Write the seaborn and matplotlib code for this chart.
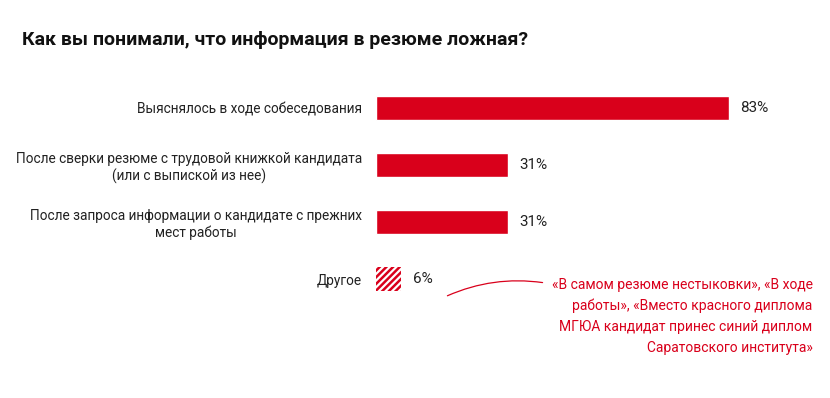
import matplotlib
matplotlib.use("Agg")
import matplotlib.pyplot as plt
import seaborn as sns
import pandas as pd

# data
categories = [
    "Выяснялось в ходе собеседования",
    "После сверки резюме с трудовой книжкой кандидата\n(или с выпиской из нее)",
    "После запроса информации о кандидате с прежних\nмест работы",
    "Другое",
]
values = [83, 31, 31, 6]
title = "Как вы понимали, что информация в резюме ложная?"
note = ("«В самом резюме нестыковки», «В ходе\n"
        "работы», «Вместо красного диплома\n"
        "МГЮА кандидат принес синий диплом\n"
        "Саратовского института»")

RED = "#d9001b"

sns.set_theme(style="white")
plt.rcParams['font.family'] = ['Roboto', 'DejaVu Sans']
plt.rcParams['hatch.linewidth'] = 1.8

df = pd.DataFrame({"cat": categories, "val": values})

fig = plt.figure(figsize=(8.3, 3.98), dpi=100)
ax = fig.add_axes([0.453, 0.227, 0.512, 0.573])

sns.barplot(data=df, x="val", y="cat", color=RED, saturation=1,
            width=0.42, ax=ax)

# last bar ("Другое") is hatched
last = ax.patches[-1]
last.set_facecolor("white")
last.set_edgecolor(RED)
last.set_hatch("/////")
last.set_linewidth(0)

ax.set_xlim(0, 100)
ax.set_ylim(3.5, -0.5)
ax.set_xlabel("")
ax.set_ylabel("")
ax.set_xticks([])
sns.despine(ax=ax, left=True, bottom=True)
ax.tick_params(axis="y", length=0, pad=10)
for lab in ax.get_yticklabels():
    lab.set_multialignment("center")
    lab.set_fontsize(9.8)
    lab.set_color("#222222")

# value labels
for i, v in enumerate(values):
    ax.annotate(f"{v}%", xy=(v, i), xytext=(8, 0), textcoords="offset points",
                va="center", ha="left", fontsize=11, color="#222222")

fig.text(0.027, 0.9, title, fontsize=14, fontweight="bold",
         color="#111111", va="center", ha="left")

# red comment and connector line
fig.text(0.979, 0.302, note, color=RED, fontsize=10, ha="right", va="top",
         linespacing=1.62)
ax.annotate("", xy=(0.536, 0.254), xycoords="figure fraction",
            xytext=(0.657, 0.289), textcoords="figure fraction",
            arrowprops=dict(arrowstyle="-", color=RED, lw=0.9,
                            connectionstyle="arc3,rad=0.15"))

fig.savefig("out.png", dpi=100)
